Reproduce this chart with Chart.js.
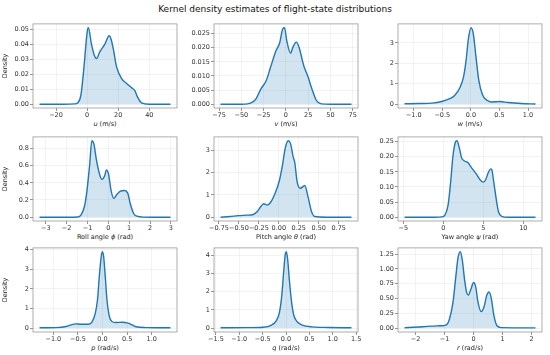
<!DOCTYPE html>
<html>
<head>
<meta charset="utf-8">
<script src="https://cdn.jsdelivr.net/npm/chart.js@4.4.0/dist/chart.umd.min.js"></script>
<style>
  body { margin: 0; width: 550px; height: 355px; background: #fff; position: relative; overflow: hidden; font-family: 'DejaVu Sans', sans-serif; }
  #title { position: absolute; left: 0; width: 550px; top: 4px; text-align: center; font-size: 9px; color: #111; }
  canvas { position: absolute; z-index: 1; }
  .xlabel { position: absolute; z-index: 2; width: 144px; text-align: center; font-size: 6.5px; line-height: 8px;
            color: #222; -webkit-text-fill-color: #222; user-select: none; }
  .xlabel span { font-style: italic; }
</style>
</head>
<body>
<div id="title">Kernel density estimates of flight-state distributions</div>
<script>
// u (m/s)
var uX = [-30.6, -15, -8, -6, -4, -2, 0, 0.8, 2.8, 4.5, 6, 8.2, 11.4, 14.2, 15.5, 17, 18.9, 22.2, 25.4, 28.6, 30.8, 32.3, 35, 40, 53.6];
var uY = [0, 0, 0.0002, 0.001, 0.006, 0.025, 0.048, 0.051, 0.040, 0.033, 0.0305, 0.035, 0.040, 0.0456, 0.043, 0.036, 0.025, 0.017, 0.0138, 0.011, 0.0089, 0.005, 0.0009, 0, 0];
// v (m/s)
var vX = [-73.3, -50, -43, -37, -33.5, -28, -22, -16.6, -11, -7, -3.4, -1.5, 1, 5.3, 8, 11.7, 14.7, 20, 25, 28.6, 34.3, 40, 50, 73.6];
var vY = [0, 0, 0.0001, 0.0008, 0.0019, 0.0054, 0.0084, 0.0137, 0.019, 0.0217, 0.0268, 0.0271, 0.0225, 0.0181, 0.0203, 0.022, 0.0203, 0.0137, 0.0096, 0.006, 0.0013, 0.0001, 0, 0];
// w (m/s)
var wX = [-1.16, -0.9, -0.68, -0.51, -0.36, -0.28, -0.19, -0.13, -0.084, -0.043, 0.003, 0.043, 0.09, 0.14, 0.2, 0.275, 0.36, 0.45, 0.51, 0.65, 0.88, 1.13];
var wY = [0.02, 0.03, 0.05, 0.13, 0.28, 0.44, 0.82, 1.31, 2.13, 3.2, 3.74, 3.44, 2.3, 1.15, 0.49, 0.2, 0.11, 0.12, 0.13, 0.08, 0.03, 0.01];
// roll angle (rad)
var rollX = [-3.3, -2, -1.46, -1.3, -1.14, -1.03, -0.9, -0.79, -0.69, -0.58, -0.42, -0.31, -0.18, -0.09, 0.01, 0.14, 0.26, 0.4, 0.56, 0.77, 0.93, 1.06, 1.22, 1.41, 2, 2.98];
var rollY = [0, 0, 0.002, 0.03, 0.13, 0.3, 0.6, 0.89, 0.85, 0.68, 0.5, 0.44, 0.48, 0.55, 0.5, 0.3, 0.22, 0.26, 0.3, 0.31, 0.28, 0.15, 0.04, 0.01, 0, 0];
// pitch angle (rad)
var pitchX = [-0.73, -0.61, -0.51, -0.40, -0.32, -0.27, -0.22, -0.19, -0.146, -0.104, -0.05, 0.004, 0.046, 0.08, 0.117, 0.146, 0.179, 0.2, 0.229, 0.27, 0.325, 0.367, 0.41, 0.45, 0.6, 0.91];
var pitchY = [0, 0.03, 0.07, 0.09, 0.12, 0.25, 0.5, 0.6, 0.54, 0.66, 1.04, 1.6, 2.34, 3.09, 3.43, 3.31, 2.72, 2.45, 1.6, 1.3, 1.42, 0.9, 0.25, 0.03, 0, 0];
// yaw angle (rad)
var yawX = [-4.84, -1, -0.2, 0.2, 0.6, 0.9, 1.2, 1.5, 1.7, 2.0, 2.3, 2.6, 3.1, 3.5, 4.1, 4.6, 5.0, 5.3, 5.6, 5.9, 6.05, 6.3, 6.6, 6.9, 7.3, 8, 11.52];
var yawY = [0, 0, 0.001, 0.007, 0.04, 0.11, 0.2, 0.247, 0.253, 0.23, 0.196, 0.187, 0.18, 0.165, 0.144, 0.124, 0.116, 0.124, 0.146, 0.16, 0.158, 0.118, 0.063, 0.018, 0.003, 0, 0];
// p (rad/s)
var pX = [-1.28, -0.95, -0.74, -0.64, -0.55, -0.44, -0.3, -0.22, -0.15, -0.1, -0.07, -0.034, -0.007, 0.02, 0.054, 0.088, 0.135, 0.19, 0.27, 0.405, 0.5, 0.6, 0.68, 0.88, 1.38];
var pY = [0.02, 0.03, 0.085, 0.17, 0.22, 0.2, 0.2, 0.3, 0.73, 1.5, 2.5, 3.5, 3.9, 3.7, 2.68, 1.5, 0.64, 0.34, 0.29, 0.3, 0.27, 0.17, 0.07, 0.03, 0.02];
// q (rad/s)
var qX = [-1.4, -0.83, -0.49, -0.31, -0.21, -0.14, -0.09, -0.05, -0.014, 0.007, 0.035, 0.07, 0.12, 0.17, 0.24, 0.35, 0.56, 0.9, 1.4];
var qY = [0.02, 0.03, 0.05, 0.17, 0.4, 0.87, 1.8, 3.08, 4.09, 4.2, 3.8, 2.7, 1.42, 0.68, 0.35, 0.17, 0.07, 0.04, 0.02];
// r (rad/s)
var rX = [-2.38, -1.92, -1.46, -1.17, -0.94, -0.83, -0.71, -0.62, -0.54, -0.46, -0.39, -0.31, -0.24, -0.18, -0.1, 0.0, 0.07, 0.15, 0.26, 0.36, 0.45, 0.53, 0.61, 0.7, 0.8, 0.95, 2.13];
var rY = [0.006, 0.02, 0.034, 0.04, 0.057, 0.16, 0.44, 0.84, 1.18, 1.29, 1.15, 0.81, 0.6, 0.56, 0.65, 0.77, 0.7, 0.44, 0.28, 0.36, 0.55, 0.61, 0.5, 0.21, 0.045, 0.01, 0.005];

// tick labels
var uXTicks = ['−20', '0', '20', '40'];
var uYTicks = ['0.00', '0.01', '0.02', '0.03', '0.04', '0.05'];
var vXTicks = ['−75', '−50', '−25', '0', '25', '50', '75'];
var vYTicks = ['0.000', '0.005', '0.010', '0.015', '0.020', '0.025'];
var wXTicks = ['−1.0', '−0.5', '0.0', '0.5', '1.0'];
var wYTicks = ['0', '1', '2', '3'];
var rollXTicks = ['−3', '−2', '−1', '0', '1', '2', '3'];
var rollYTicks = ['0.0', '0.2', '0.4', '0.6', '0.8'];
var pitchXTicks = ['−0.75', '−0.50', '−0.25', '0.00', '0.25', '0.50', '0.75'];
var pitchYTicks = ['0', '1', '2', '3'];
var yawXTicks = ['−5', '0', '5', '10'];
var yawYTicks = ['0.00', '0.05', '0.10', '0.15', '0.20', '0.25'];
var pXTicks = ['−1.0', '−0.5', '0.0', '0.5', '1.0'];
var pYTicks = ['0', '1', '2', '3', '4'];
var qXTicks = ['−1.5', '−1.0', '−0.5', '0.0', '0.5', '1.0', '1.5'];
var qYTicks = ['0', '1', '2', '3', '4'];
var rXTicks = ['−2', '−1', '0', '1', '2'];
var rYTicks = ['0.00', '0.25', '0.50', '0.75', '1.00', '1.25'];

// axis titles: [text before, italic symbol, text after]
var xTitles = [
  ['', 'u', ' (m/s)'], ['', 'v', ' (m/s)'], ['', 'w', ' (m/s)'],
  ['Roll angle ', 'ϕ', ' (rad)'], ['Pitch angle ', 'θ', ' (rad)'], ['Yaw angle ', 'ψ', ' (rad)'],
  ['', 'p', ' (rad/s)'], ['', 'q', ' (rad/s)'], ['', 'r', ' (rad/s)']
];

var panels = [
  { x: uX, y: uY, xt: uXTicks, yt: uYTicks },
  { x: vX, y: vY, xt: vXTicks, yt: vYTicks },
  { x: wX, y: wY, xt: wXTicks, yt: wYTicks },
  { x: rollX, y: rollY, xt: rollXTicks, yt: rollYTicks },
  { x: pitchX, y: pitchY, xt: pitchXTicks, yt: pitchYTicks },
  { x: yawX, y: yawY, xt: yawXTicks, yt: yawYTicks },
  { x: pX, y: pY, xt: pXTicks, yt: pYTicks },
  { x: qX, y: qY, xt: qXTicks, yt: qYTicks },
  { x: rX, y: rY, xt: rXTicks, yt: rYTicks }
];

// layout of the axes boxes
var colLeft = [33, 214, 398];
var rowTop = [23, 136, 247];
var boxW = 144, boxH = 85;
var yAxisW = 32, xAxisH = 12, padTop = 4, padRight = 8;

var tickFont = { family: 'DejaVu Sans', size: 6.5 };

function toNum(s) { return parseFloat(s.replace('−', '-')); }

// draws the full frame round the plot area
var framePlugin = {
  id: 'frame',
  afterDraw: function(chart) {
    var a = chart.chartArea, ctx = chart.ctx;
    ctx.save();
    ctx.strokeStyle = '#9a9a9a';
    ctx.lineWidth = 0.8;
    ctx.strokeRect(a.left, a.top, a.right - a.left, a.bottom - a.top);
    ctx.restore();
  }
};

function makeLabel(parts, left, top) {
  var lab = document.createElement('div');
  lab.className = 'xlabel';
  lab.style.left = left + 'px';
  lab.style.top = top + 'px';
  lab.appendChild(document.createTextNode(parts[0]));
  var sym = document.createElement('span');
  sym.textContent = parts[1];
  lab.appendChild(sym);
  lab.appendChild(document.createTextNode(parts[2]));
  document.body.appendChild(lab);
}

function makePanel(p, i) {
  var col = i % 3, row = Math.floor(i / 3);
  var left = colLeft[col], top = rowTop[row];

  var cv = document.createElement('canvas');
  cv.width = yAxisW + boxW + padRight;
  cv.height = padTop + boxH + xAxisH;
  cv.style.left = (left - yAxisW) + 'px';
  cv.style.top = (top - padTop) + 'px';
  document.body.appendChild(cv);

  makeLabel(xTitles[i], left, top + boxH + 12);

  var xmin = Math.min.apply(null, p.x), xmax = Math.max.apply(null, p.x);
  var ymax = Math.max.apply(null, p.y);
  var dx = (xmax - xmin) * 0.05, dy = ymax * 0.05;

  var pts = p.x.map(function(v, k) { return { x: v, y: p.y[k] }; });

  new Chart(cv, {
    type: 'line',
    data: {
      datasets: [{
        data: pts,
        borderColor: '#1f77b4',
        backgroundColor: 'rgba(31,119,180,0.2)',
        borderWidth: 1.4,
        fill: 'origin',
        pointRadius: 0,
        cubicInterpolationMode: 'monotone'
      }]
    },
    options: {
      responsive: false,
      animation: false,
      devicePixelRatio: 1,
      layout: { padding: { top: padTop, right: padRight, left: 0, bottom: 0 } },
      plugins: { legend: { display: false }, tooltip: { enabled: false } },
      scales: {
        x: {
          type: 'linear',
          min: xmin - dx,
          max: xmax + dx,
          afterBuildTicks: function(s) { s.ticks = p.xt.map(function(t) { return { value: toNum(t) }; }); },
          afterFit: function(s) { s.height = xAxisH; },
          ticks: { font: tickFont, color: '#333', padding: 0, maxRotation: 0, autoSkip: false,
                   callback: function(v, k) { return p.xt[k]; } },
          grid: { color: 'rgba(0,0,0,0.07)', lineWidth: 0.7, tickColor: '#666', tickLength: 3 },
          border: { display: false }
        },
        y: {
          min: -dy,
          max: ymax + dy,
          afterBuildTicks: function(s) { s.ticks = p.yt.map(function(t) { return { value: toNum(t) }; }); },
          afterFit: function(s) { s.width = yAxisW; },
          ticks: { font: tickFont, color: '#333', padding: 1, autoSkip: false,
                   callback: function(v, k) { return p.yt[k]; } },
          grid: { color: 'rgba(0,0,0,0.07)', lineWidth: 0.7, tickColor: '#666', tickLength: 3 },
          border: { display: false },
          title: { display: col === 0, text: 'Density', font: tickFont, color: '#222', padding: 0 }
        }
      }
    },
    plugins: [framePlugin]
  });
}

panels.forEach(makePanel);
</script>
</body>
</html>
